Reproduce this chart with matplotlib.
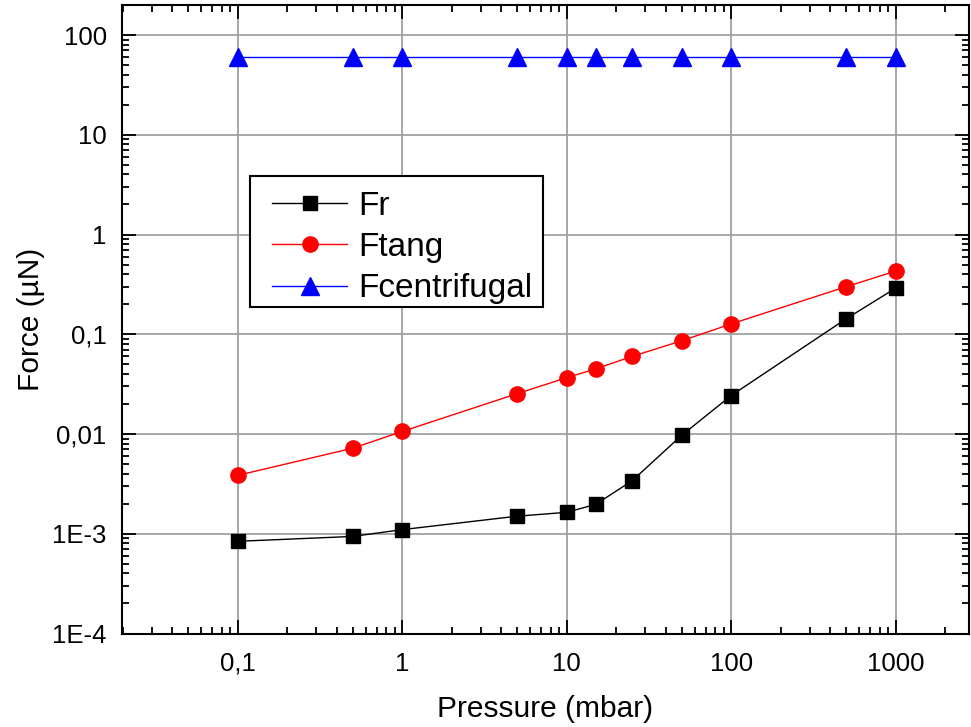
import matplotlib
matplotlib.use("Agg")
import matplotlib.pyplot as plt
from matplotlib.patches import Rectangle
from matplotlib.ticker import FixedLocator, FixedFormatter, LogLocator, NullFormatter

plt.rcParams['font.family'] = ['Liberation Sans', 'DejaVu Sans']

pressure = [0.1, 0.5, 1, 5, 10, 15, 25, 50, 100, 500, 1000]
f_r = [0.00084, 0.00094, 0.0011, 0.0015, 0.00164, 0.00197, 0.0034, 0.0097, 0.0243, 0.143, 0.29]
f_tang = [0.00385, 0.0072, 0.0106, 0.0254, 0.0367, 0.045, 0.06, 0.086, 0.127, 0.30, 0.43]
f_centrifugal = [60, 60, 60, 60, 60, 60, 60, 60, 60, 60, 60]

x_ticks = [0.1, 1, 10, 100, 1000]
x_labels = ["0,1", "1", "10", "100", "1000"]
y_ticks = [1e-4, 1e-3, 1e-2, 1e-1, 1, 10, 100]
y_labels = ["1E-4", "1E-3", "0,01", "0,1", "1", "10", "100"]

fig = plt.figure(figsize=(9.71, 7.27), dpi=100)
ax = fig.add_axes([122/971, 1-633.5/727, (969-122)/971, (633.5-5)/727])

ax.set_xscale('log')
ax.set_yscale('log')
ax.set_xlim(0.0198, 2790)
ax.set_ylim(1e-4, 200)

ax.plot(pressure, f_r, color='black', marker='s', markersize=10, linewidth=1.0, label='Fr', zorder=3)
ax.plot(pressure, f_tang, color='red', marker='o', markersize=11, linewidth=1.0, label='Ftang', zorder=3)
ax.plot(pressure, f_centrifugal, color='blue', marker='^', markersize=13, linewidth=1.0, label='Fcentrifugal', zorder=3)

ax.xaxis.set_major_locator(FixedLocator(x_ticks))
ax.xaxis.set_major_formatter(FixedFormatter(x_labels))
ax.yaxis.set_major_locator(FixedLocator(y_ticks))
ax.yaxis.set_major_formatter(FixedFormatter(y_labels))
ax.xaxis.set_minor_locator(LogLocator(base=10, subs=range(2, 10), numticks=20))
ax.yaxis.set_minor_locator(LogLocator(base=10, subs=range(2, 10), numticks=20))
ax.xaxis.set_minor_formatter(NullFormatter())
ax.yaxis.set_minor_formatter(NullFormatter())

ax.tick_params(which='both', direction='in', top=True, right=True, width=1.3, colors='black')
ax.tick_params(which='major', length=10, labelsize=18.5)
ax.tick_params(axis='y', which='major', pad=11)
ax.tick_params(axis='x', which='major', pad=13)
ax.tick_params(which='minor', length=5)

ax.grid(True, which='major', color='#a0a0a0', linewidth=1.3)
ax.set_axisbelow(True)
for s in ax.spines.values():
    s.set_linewidth(1.5)
    s.set_color('black')

ax.set_xlabel('Pressure (mbar)', fontsize=21.5, labelpad=14)
ax.set_ylabel('Force (µN)', fontsize=21.5, labelpad=5)

# legend frame
box = Rectangle((0.1511, 0.5195), 0.497 - 0.1511, 0.728 - 0.5195, transform=ax.transAxes,
                facecolor='white', edgecolor='black', linewidth=1.5, zorder=4)
ax.add_patch(box)
leg = ax.legend(loc='upper left', bbox_to_anchor=(0.1771, 0.7045), borderaxespad=0,
                fontsize=24, frameon=False, handlelength=2.25, handletextpad=0.33,
                labelspacing=0.31, borderpad=0)
leg.set_zorder(5)

fig.savefig('out.png', dpi=100)
